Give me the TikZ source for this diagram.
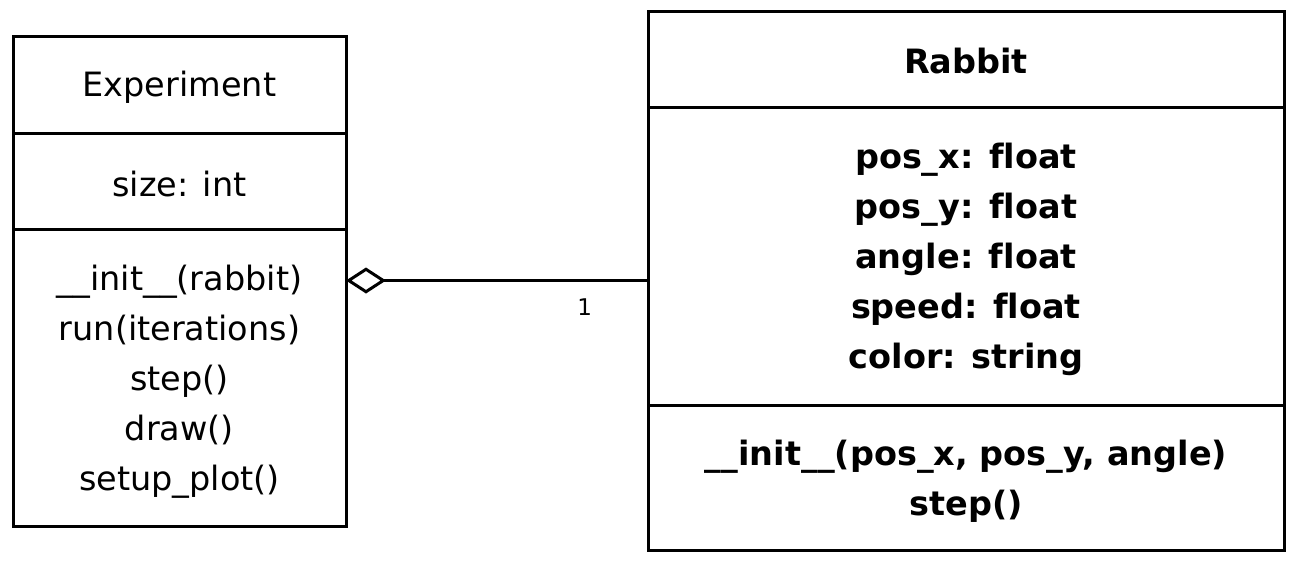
\documentclass[tikz,border=0pt]{standalone}
\usepackage{fontspec}
\setmainfont{DejaVu Sans}[Ligatures=NoCommon]
\usetikzlibrary{arrows.meta}
\begin{document}
\begin{tikzpicture}[x=1pt,y=-1pt,
  comp/.style={draw, line width=3pt, inner sep=0pt, outer sep=0pt},
  txt/.style={inner sep=0pt, align=center, font=\fontsize{33.5}{50}\selectfont},
  btxt/.style={txt, font=\fontsize{33.5}{50}\selectfont\bfseries},
  aggr/.style={line width=3pt, {Diamond[open,length=40pt,width=26pt,line width=3pt]}-},
  mult/.style={font=\fontsize{23}{26}\selectfont, inner sep=0pt}]
\useasboundingbox (0,0) rectangle (1303,568);
% Experiment class
\node[comp, minimum width=333pt, minimum height=97pt] (etitle) at (179.5,84.5) {};
\node[comp, minimum width=333pt, minimum height=96pt] (eattr) at (179.5,181) {};
\node[comp, minimum width=333pt, minimum height=297pt] (emeth) at (179.5,377.5) {};
\node[txt] (etitleT) at ([yshift=-3pt]etitle.center) {Experiment};
\node[txt] (eattrT) at ([yshift=-3pt]eattr.center) {size: int};
\node[txt] (emethT) at ([yshift=-4pt]emeth.center)
  {\_\_init\_\_(rabbit)\\run(iterations)\\step()\\draw()\\setup\_plot()};
% Rabbit class
\node[minimum width=636pt, minimum height=539pt, inner sep=0pt, outer sep=0pt] (rabbit) at (966,280.5) {};
\node[comp, minimum width=636pt, minimum height=96pt] (rtitle) at (966,59) {};
\node[comp, minimum width=636pt, minimum height=298pt] (rattr) at (966,256) {};
\node[comp, minimum width=636pt, minimum height=145pt] (rmeth) at (966,477.5) {};
\node[btxt] (rtitleT) at ([yshift=-2pt]rtitle.center) {Rabbit};
\node[btxt] (rattrT) at ([yshift=-3pt]rattr.center)
  {pos\_x: float\\pos\_y: float\\angle: float\\speed: float\\color: string};
\node[btxt] (rmethT) at ([yshift=-4pt]rmeth.center)
  {\_\_init\_\_(pos\_x, pos\_y, angle)\\step()};
% aggregation
\draw[aggr] (rabbit.west -| emeth.east) -- (rabbit.west)
  node[mult, pos=0.79, below=17pt] (m1) {1};
\end{tikzpicture}
\end{document}
